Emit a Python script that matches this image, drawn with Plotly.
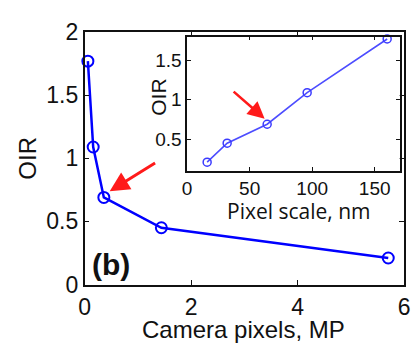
import plotly.graph_objects as go

# ---- data ----
camera_mp = [0.06, 0.16, 0.36, 1.44, 5.7]
oir_main = [1.77, 1.09, 0.69, 0.45, 0.21]

pixel_nm = [16, 32, 64, 96, 160]
oir_inset = [0.21, 0.45, 0.69, 1.09, 1.77]

main_xticks = [0, 2, 4, 6]
main_yticks = [0, 0.5, 1, 1.5, 2]
inset_xticks = [0, 50, 100, 150]
inset_yticks = [0.5, 1, 1.5]

W, H = 418, 350
def px(x):
    return x / W
def py(y):
    return 1 - y / H

fig = go.Figure()

fig.add_trace(go.Scatter(
    x=camera_mp, y=oir_main, mode="lines+markers",
    line=dict(color="#0000ff", width=2.5),
    marker=dict(symbol="circle-open", size=11, color="#0000ff", line=dict(width=2)),
    xaxis="x", yaxis="y", showlegend=False, cliponaxis=False))

fig.add_trace(go.Scatter(
    x=pixel_nm, y=oir_inset, mode="lines+markers",
    line=dict(color="#4d4dff", width=1.6),
    marker=dict(symbol="circle-open", size=8, color="#3a3aff", line=dict(width=1.5)),
    xaxis="x2", yaxis="y2", showlegend=False, cliponaxis=False))

tickfont_main = dict(family="Liberation Sans, Arial, sans-serif", size=23, color="#111")
tickfont_inset = dict(family="Liberation Sans, Arial, sans-serif", size=19, color="#111")

axis_common = dict(showline=True, linecolor="#111", linewidth=1.5, mirror="ticks",
                   ticks="inside", tickcolor="#111", tickwidth=1,
                   showgrid=False, zeroline=False)

fig.update_layout(
    width=W, height=H, autosize=False,
    margin=dict(l=0, r=0, t=0, b=0),
    paper_bgcolor="white", plot_bgcolor="white",
    xaxis=dict(domain=[px(81), px(410)], range=[0, 6], tickvals=main_xticks,
               ticklen=5, tickfont=tickfont_main, anchor="y", ticklabelstandoff=1,
               **axis_common),
    yaxis=dict(domain=[py(293.3), py(20.7)], range=[0, 2], tickvals=main_yticks,
               ticklen=5, tickfont=tickfont_main, anchor="x", **axis_common),
    xaxis2=dict(domain=[px(186.5), px(405.3)], range=[0, 170], tickvals=inset_xticks,
                ticklen=4, tickfont=tickfont_inset, anchor="y2", **axis_common),
    yaxis2=dict(domain=[py(170.5), py(25.5)], range=[0.1, 1.8], tickvals=inset_yticks,
                ticklen=4, tickfont=tickfont_inset, anchor="x2", **axis_common),
    shapes=[dict(type="rect", xref="x2 domain", yref="y2 domain", x0=0, x1=1, y0=0, y1=1,
                 fillcolor="white", line=dict(width=0), layer="below")],
)

annotations = [
    dict(text="Camera pixels, MP", xref="paper", yref="paper", x=px(245), y=py(342),
         xanchor="center", yanchor="middle", showarrow=False,
         font=dict(family="Liberation Sans, Arial, sans-serif", size=24, color="#111")),
    dict(text="OIR", xref="paper", yref="paper", x=px(22), y=py(157), textangle=-90,
         xanchor="center", yanchor="middle", showarrow=False,
         font=dict(family="Liberation Sans, Arial, sans-serif", size=24, color="#111")),
    dict(text="Pixel scale, nm", xref="paper", yref="paper", x=px(302), y=py(214),
         xanchor="center", yanchor="middle", showarrow=False,
         font=dict(family="Open Sans, sans-serif", size=21, color="#111")),
    dict(text="OIR", xref="paper", yref="paper", x=px(157), y=py(91), textangle=-90,
         xanchor="center", yanchor="middle", showarrow=False,
         font=dict(family="Liberation Sans, Arial, sans-serif", size=21, color="#111")),
    dict(text="<b>(b)</b>", xref="x", yref="y", x=0.49, y=0.155,
         xanchor="center", yanchor="middle", showarrow=False,
         font=dict(family="Liberation Sans, Arial, sans-serif", size=30, color="#111")),
    # red arrows
    dict(text="", xref="x", yref="y", axref="x", ayref="y",
         x=0.47, y=0.74, ax=1.35, ay=0.97, showarrow=True,
         arrowhead=2, arrowsize=1.3, arrowwidth=3, arrowcolor="#ff1a1a"),
    dict(text="", xref="x2", yref="y2", axref="x2", ayref="y2",
         x=62, y=0.76, ax=36, ay=1.12, showarrow=True,
         arrowhead=2, arrowsize=1.3, arrowwidth=2.6, arrowcolor="#ff1a1a"),
]
fig.update_layout(annotations=annotations)

fig.write_html("out.html")
